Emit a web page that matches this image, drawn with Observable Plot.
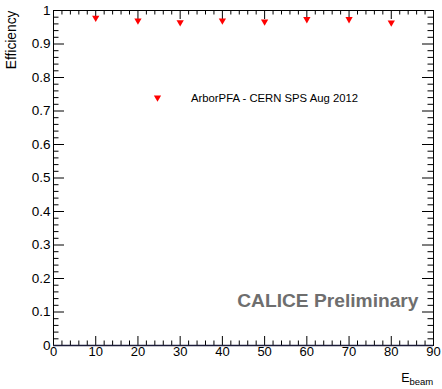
<!DOCTYPE html>
<html><head><meta charset="utf-8">
<script src="https://cdn.jsdelivr.net/npm/d3@7"></script>
<script src="https://cdn.jsdelivr.net/npm/@observablehq/plot@0.6"></script>
<style>body{margin:0;background:#fff} svg{display:block}</style>
</head><body><div id="chart"></div>
<script>
const energies = [10, 20, 30, 40, 50, 60, 70, 80];
const efficiency = [0.978, 0.970, 0.965, 0.970, 0.967, 0.974, 0.974, 0.964];
const xMajor = [0, 10, 20, 30, 40, 50, 60, 70, 80, 90];
const xLabels = ["0", "10", "20", "30", "40", "50", "60", "70", "80", "90"];
const xMinor = [2, 4, 6, 8, 12, 14, 16, 18, 22, 24, 26, 28, 32, 34, 36, 38, 42, 44, 46, 48,
  52, 54, 56, 58, 62, 64, 66, 68, 72, 74, 76, 78, 82, 84, 86, 88];
const yMajor = [0, 0.1, 0.2, 0.3, 0.4, 0.5, 0.6, 0.7, 0.8, 0.9, 1];
const yLabels = ["0", "0.1", "0.2", "0.3", "0.4", "0.5", "0.6", "0.7", "0.8", "0.9", "1"];
const yMinor = [0.02, 0.04, 0.06, 0.08, 0.12, 0.14, 0.16, 0.18, 0.22, 0.24, 0.26, 0.28,
  0.32, 0.34, 0.36, 0.38, 0.42, 0.44, 0.46, 0.48, 0.52, 0.54, 0.56, 0.58,
  0.62, 0.64, 0.66, 0.68, 0.72, 0.74, 0.76, 0.78, 0.82, 0.84, 0.86, 0.88,
  0.92, 0.94, 0.96, 0.98];
const legendLabel = ["ArborPFA - CERN SPS Aug 2012"];
const watermark = ["CALICE Preliminary"];
const xTitle = ["E", "beam"];
const yTitle = ["Efficiency"];

const data = energies.map((e, i) => ({e, eff: efficiency[i]}));

const W = 442, H = 389;
const mL = 53, mR = 9, mT = 10, mB = 44;
const fw = W - mL - mR, fh = H - mT - mB;
const font = "'Liberation Sans', Arial, Helvetica, sans-serif";

const chart = Plot.plot({
  width: W, height: H,
  marginLeft: mL, marginRight: mR, marginTop: mT, marginBottom: mB,
  style: {fontFamily: font, background: "#fff", overflow: "visible"},
  x: {domain: [0, 90], axis: null},
  y: {domain: [0, 1], axis: null},
  marks: [
    // ticks bottom/top
    Plot.tickX(xMajor, {x: d => d, insetTop: fh - 9, stroke: "#000"}),
    Plot.tickX(xMinor, {x: d => d, insetTop: fh - 4.5, stroke: "#000"}),
    Plot.tickX(xMajor, {x: d => d, insetBottom: fh - 9, stroke: "#000"}),
    Plot.tickX(xMinor, {x: d => d, insetBottom: fh - 4.5, stroke: "#000"}),
    // ticks left/right
    Plot.tickY(yMajor, {y: d => d, insetRight: fw - 11, stroke: "#000"}),
    Plot.tickY(yMinor, {y: d => d, insetRight: fw - 5.5, stroke: "#000"}),
    Plot.tickY(yMajor, {y: d => d, insetLeft: fw - 11, stroke: "#000"}),
    Plot.tickY(yMinor, {y: d => d, insetLeft: fw - 5.5, stroke: "#000"}),
    Plot.frame({stroke: "#000"}),
    Plot.ruleY([0], {stroke: "#1c1c3a", strokeWidth: 1.6}),
    // tick labels
    Plot.text(xMajor, {x: d => d, text: (d, i) => xLabels[i], frameAnchor: "bottom", dy: 10, fontSize: 13, fill: "#000"}),
    Plot.text(yMajor, {y: d => d, text: (d, i) => yLabels[i], frameAnchor: "left", dx: -3, textAnchor: "end", fontSize: 13.5, fill: "#000"}),
    // data
    Plot.dot(data, {x: "e", y: "eff", symbol: "triangle", rotate: 180, r: 2.7, fill: "#ff0000", stroke: "none"}),
    // legend
    Plot.dot([0], {frameAnchor: "top-left", dx: 104, dy: 87, symbol: "triangle", rotate: 180, r: 2.7, fill: "#ff0000", stroke: "none"}),
    Plot.text(legendLabel, {frameAnchor: "top-left", dx: 137.5, dy: 91.5, textAnchor: "start", lineAnchor: "bottom", fontSize: 11.3, fill: "#000"}),
    // watermark
    Plot.text(watermark, {frameAnchor: "bottom-right", dx: -15, dy: -39, textAnchor: "end", lineAnchor: "bottom", fontSize: 19.2, fontWeight: "bold", fill: "#6e6e6e"}),
    // axis titles
    Plot.text([xTitle[0]], {frameAnchor: "bottom-right", dx: -24, dy: 36, textAnchor: "end", lineAnchor: "bottom", fontSize: 12.5, fill: "#000"}),
    Plot.text([xTitle[1]], {frameAnchor: "bottom-right", dx: -24, dy: 39.5, textAnchor: "start", lineAnchor: "bottom", fontSize: 9.5, fill: "#000"}),
    Plot.text(yTitle, {frameAnchor: "top-left", dx: -38, dy: 0, rotate: -90, textAnchor: "end", lineAnchor: "bottom", fontSize: 13.8, fill: "#000"})
  ]
});
document.getElementById("chart").appendChild(chart);
</script>
</body></html>
